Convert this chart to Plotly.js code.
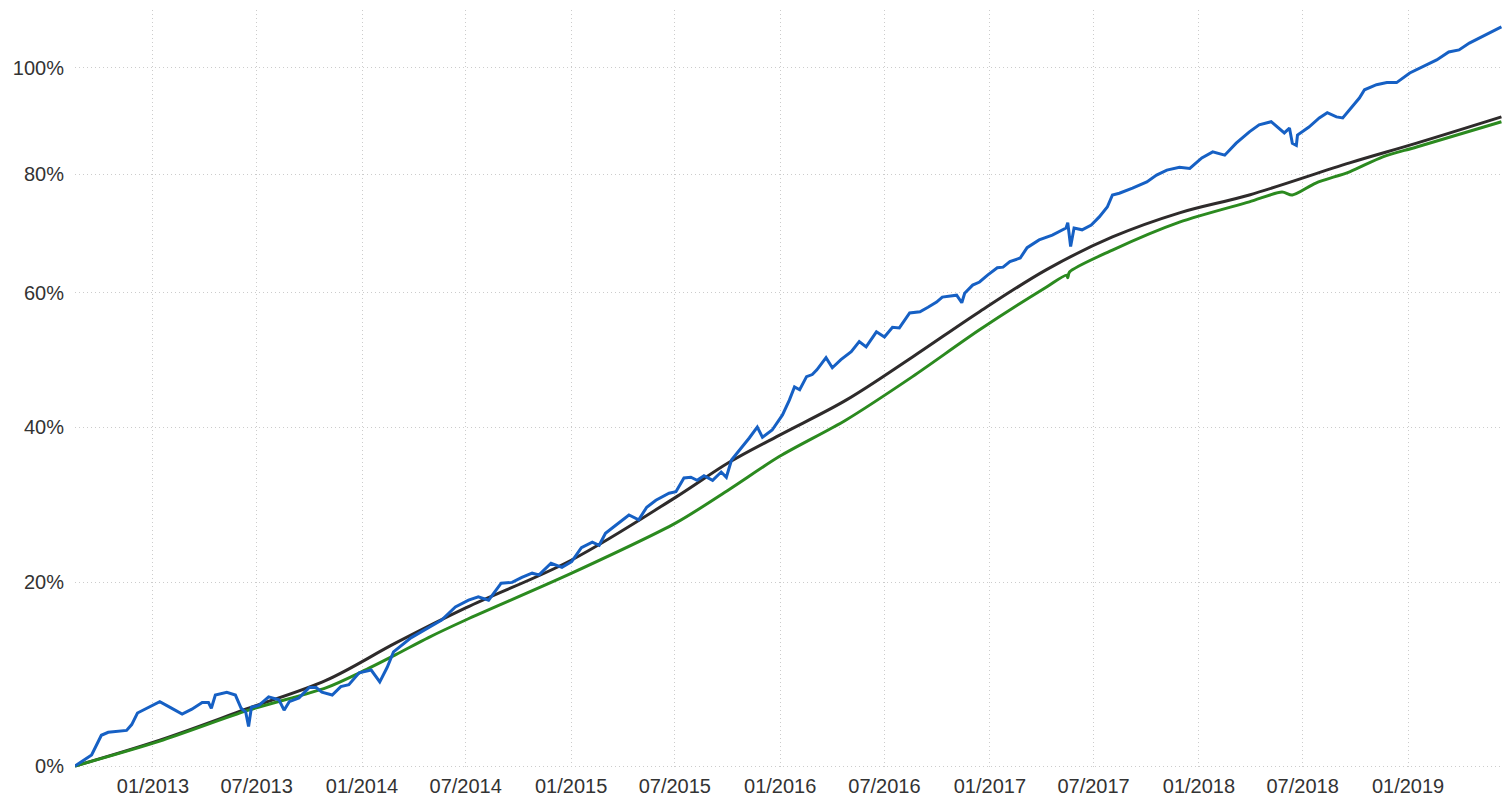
<!DOCTYPE html>
<html>
<head>
<meta charset="utf-8">
<script src="https://cdn.plot.ly/plotly-3.0.1.min.js"></script>
<style>
html,body{margin:0;padding:0;background:#fff;}
#chart{width:1502px;height:800px;}
</style>
</head>
<body>
<div id="chart"></div>
<script>
// Cumulative returns in percent
var blueDates = ['2012-08-18','2012-09-16','2012-10-03','2012-10-15','2012-11-16','2012-11-25','2012-12-05','2012-12-21',
'2013-01-13','2013-01-31','2013-02-21','2013-03-10','2013-03-28','2013-04-08','2013-04-13','2013-04-20','2013-05-10','2013-05-25',
'2013-06-04','2013-06-12','2013-06-17','2013-06-22','2013-07-05','2013-07-22','2013-08-09','2013-08-18','2013-08-27','2013-09-13',
'2013-10-01','2013-10-13','2013-10-23','2013-11-10','2013-11-25','2013-12-09','2013-12-27','2014-01-17','2014-02-01','2014-02-14',
'2014-02-25','2014-03-28','2014-04-27','2014-05-20','2014-06-13','2014-07-06','2014-07-23','2014-08-10','2014-09-01','2014-09-20',
'2014-10-07','2014-10-25','2014-11-06','2014-11-27','2014-12-16','2015-01-02','2015-01-19','2015-02-07','2015-02-19','2015-03-02',
'2015-03-20','2015-04-12','2015-04-29','2015-05-13','2015-05-29','2015-06-21','2015-07-03','2015-07-17','2015-07-29','2015-08-09',
'2015-08-21','2015-09-05','2015-09-20','2015-09-29','2015-10-08','2015-10-27','2015-11-08','2015-11-22','2015-12-01','2015-12-18',
'2016-01-05','2016-01-17','2016-01-26','2016-02-04','2016-02-16','2016-02-26','2016-03-05','2016-03-21','2016-04-01','2016-04-16',
'2016-05-04','2016-05-18','2016-05-30','2016-06-17','2016-07-01','2016-07-15','2016-07-27','2016-08-14','2016-09-01','2016-09-15',
'2016-09-30','2016-10-10','2016-11-04','2016-11-13','2016-11-18','2016-12-02','2016-12-14','2016-12-28','2017-01-14','2017-01-24',
'2017-02-05','2017-02-23','2017-03-07','2017-03-28','2017-04-20','2017-05-14','2017-05-17','2017-05-22','2017-05-28','2017-06-11',
'2017-06-27','2017-07-11','2017-07-25','2017-08-03','2017-08-15','2017-09-07','2017-10-02','2017-10-19','2017-11-06','2017-11-28',
'2017-12-16','2018-01-06','2018-01-25','2018-02-15','2018-03-07','2018-03-30','2018-04-16','2018-05-07','2018-05-21','2018-05-30',
'2018-06-08','2018-06-13','2018-06-20','2018-06-22','2018-07-12','2018-07-30','2018-08-13','2018-08-29','2018-09-09','2018-09-24',
'2018-10-08','2018-10-17','2018-11-07','2018-11-25','2018-12-12','2019-01-04','2019-01-27','2019-02-20','2019-03-13','2019-03-31',
'2019-04-18','2019-05-10','2019-06-04','2019-06-13'];
var blueValues = [0,1.1,3.1,3.4,3.6,4.2,5.4,5.9,
6.6,6.0,5.3,5.8,6.5,6.5,5.9,7.3,7.6,7.3,
5.9,5.5,4.0,6.0,6.2,7.1,6.8,5.7,6.6,7.0,
8.1,8.1,7.6,7.3,8.2,8.4,9.7,10.0,8.7,10.3,
12.0,13.6,14.7,15.6,17.1,17.9,18.3,17.9,19.9,20.0,
20.6,21.1,20.9,22.3,21.8,22.5,24.2,24.9,24.5,26.0,
27.0,28.3,27.7,29.3,30.2,31.1,31.3,33.1,33.2,32.8,
33.4,32.8,33.9,33.2,35.5,37.3,38.5,40.0,38.6,39.6,
41.7,43.8,45.7,45.3,47.2,47.5,48.2,50.0,48.5,49.7,
50.9,52.4,51.6,53.9,53.1,54.6,54.5,56.8,57.0,57.7,
58.5,59.3,59.6,58.4,59.9,61.2,61.7,62.8,64.0,64.1,
65.0,65.6,67.3,68.6,69.4,70.6,71.5,67.5,70.6,70.3,
71.1,72.5,74.2,76.3,76.6,77.5,78.6,79.8,80.7,81.2,
81.0,82.9,84.0,83.4,85.6,87.7,89.0,89.6,88.4,87.5,
88.4,85.6,85.2,87.1,88.6,90.3,91.3,90.5,90.3,92.2,
94.1,95.7,96.7,97.1,97.1,99.0,100.2,101.6,103.2,103.6,
105.0,106.3,107.7,108.3];

var blackDates = ['2012-08-18','2013-01-13','2013-06-17','2013-10-31','2014-03-01','2014-07-01','2015-01-02','2015-07-03',
'2015-10-04','2015-12-31','2016-04-25','2016-08-19','2016-12-14','2017-04-10','2017-08-03','2017-11-28','2018-03-30',
'2018-09-21','2019-01-16','2019-06-13'];
var blackValues = [0,2.6,5.9,8.9,13.0,17.0,22.7,30.6,
35.2,38.9,43.8,50.1,57.0,63.7,69.1,73.2,76.3,
82.0,85.6,90.5];

var greenDates = ['2012-08-18','2013-01-13','2013-06-17','2013-10-31','2013-12-31','2014-03-01','2014-04-27','2014-07-01',
'2015-01-02','2015-07-03','2015-10-04','2015-12-31','2016-04-25','2016-08-19','2016-12-14','2017-04-10','2017-05-15',
'2017-05-17','2017-05-20','2017-08-03','2017-11-28','2018-03-30','2018-05-26','2018-06-13','2018-07-24','2018-09-21',
'2018-11-18','2019-01-16','2019-06-13'];
var greenValues = [0,2.5,5.7,8.1,9.8,11.7,13.6,15.6,
21.1,27.3,31.6,36.0,41.0,47.2,54.2,60.9,62.8,
62.4,63.3,66.9,71.6,75.1,76.8,76.3,78.4,80.4,
83.1,84.9,89.6];

var yTickValues = [0,20,40,60,80,100];
var yTickLabels = ['0%','20%','40%','60%','80%','100%'];

function growth(arr){ return arr.map(function(v){ return 1 + v/100; }); }

var traces = [
  {x: blackDates, y: growth(blackValues), type:'scatter', mode:'lines',
   line:{color:'#2e2b2b', width:3, shape:'spline', smoothing:1}, hoverinfo:'skip'},
  {x: greenDates, y: growth(greenValues), type:'scatter', mode:'lines',
   line:{color:'#2b8a1f', width:3, shape:'spline', smoothing:0.8}, hoverinfo:'skip'},
  {x: blueDates, y: growth(blueValues), type:'scatter', mode:'lines',
   line:{color:'#1660c4', width:3}, hoverinfo:'skip'}
];

var pxPerDecade = 2319;
var layout = {
  width:1502, height:800,
  margin:{l:75, r:0, t:10, b:32},
  paper_bgcolor:'#fff', plot_bgcolor:'#fff',
  showlegend:false,
  font:{family:'"Liberation Sans", Arial, sans-serif', size:20, color:'#333'},
  xaxis:{type:'date', range:['2012-08-18','2019-06-14'],
    tick0:'2013-01-01', dtick:'M6', tickformat:'%m/%Y',
    showgrid:true, gridcolor:'#cccccc', griddash:'1px,3px', gridwidth:1,
    zeroline:false, showline:false, ticks:'', ticklabelstandoff:4},
  yaxis:{type:'log', range:[-2/pxPerDecade, 756/pxPerDecade],
    tickmode:'array', tickvals: growth(yTickValues), ticktext: yTickLabels,
    showgrid:true, gridcolor:'#cccccc', griddash:'1px,3px', gridwidth:1,
    zeroline:false, showline:false, ticks:'', ticklabelstandoff:10}
};

Plotly.newPlot('chart', traces, layout, {displayModeBar:false, staticPlot:true});
</script>
</body>
</html>
